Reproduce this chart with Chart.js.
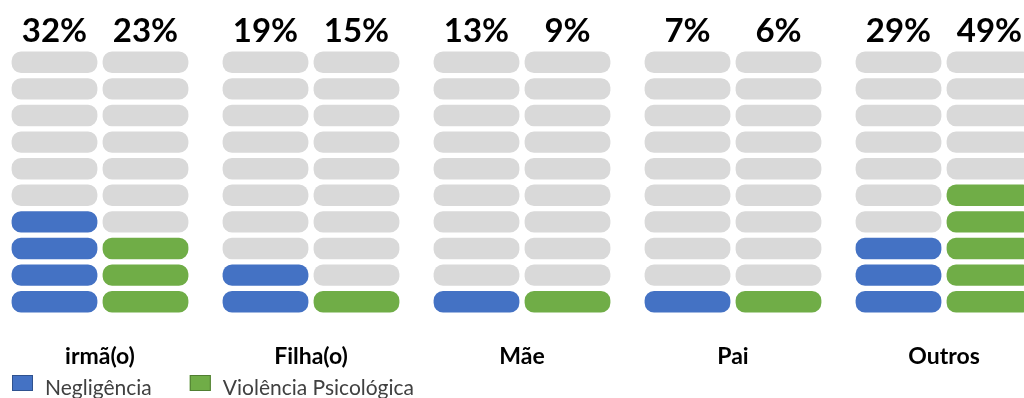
<!DOCTYPE html>
<html>
<head>
<meta charset="utf-8">
<script src="https://cdn.jsdelivr.net/npm/chart.js@4.4.1/dist/chart.umd.min.js"></script>
<style>
  html, body { margin: 0; padding: 0; background: #fff; overflow: hidden; }
  body { width: 1024px; height: 398px; position: relative; }
  .chart-box { position: absolute; left: -20px; top: 0; width: 1100px; height: 398px; }
</style>
</head>
<body>
<div class="chart-box"><canvas id="chart"></canvas></div>
<script>
const CATEGORIES = ['irmã(o)', 'Filha(o)', 'Mãe', 'Pai', 'Outros'];
const NEGLIGENCIA_PCT = [32, 19, 13, 7, 29];
const VIOLENCIA_PCT = [23, 15, 9, 6, 49];
// number of coloured pills in each column (out of 10)
const NEGLIGENCIA_FILLED = [4, 2, 1, 1, 3];
const VIOLENCIA_FILLED = [3, 1, 1, 1, 5];
const ROWS = 10;

const GREY = '#D9D9D9';

const SERIES = [
    { label: 'Negligência', stack: 'neg', pct: NEGLIGENCIA_PCT, filled: NEGLIGENCIA_FILLED, color: '#4472C4', edge: '#2F528F' },
    { label: 'Violência Psicológica', stack: 'psi', pct: VIOLENCIA_PCT, filled: VIOLENCIA_FILLED, color: '#70AD47', edge: '#507E32' }
];

// one floating-bar dataset per row and per series, so every pill is its own bar
const datasets = [];
SERIES.forEach(s => {
    for (let r = 0; r < ROWS; r++) {
        datasets.push({
            label: s.label,
            stack: s.stack,
            row: r,
            data: CATEGORIES.map(() => [r, r + 1]),
            backgroundColor: s.filled.map(n => r < n ? s.color : GREY),
            borderColor: '#ffffff',
            borderWidth: 2.6,
            borderRadius: 12,
            borderSkipped: false,
            categoryPercentage: 0.8626,
            barPercentage: 1
        });
    }
});

const percentLabels = {
    id: 'percentLabels',
    afterDatasetsDraw(chart) {
        const ctx = chart.ctx;
        ctx.save();
        ctx.font = 'bold 33px Lato';
        ctx.fillStyle = '#000';
        ctx.textAlign = 'center';
        ctx.textBaseline = 'alphabetic';
        chart.data.datasets.forEach((ds, i) => {
            if (ds.row !== ROWS - 1) return;
            const s = SERIES.find(x => x.stack === ds.stack);
            chart.getDatasetMeta(i).data.forEach((bar, j) => {
                ctx.fillText(s.pct[j] + '%', bar.x, chart.chartArea.top - 7);
            });
        });
        ctx.restore();
    }
};

const bottomLegend = {
    id: 'bottomLegend',
    afterDraw(chart) {
        const ctx = chart.ctx;
        ctx.save();
        ctx.font = '21px Lato';
        ctx.textBaseline = 'alphabetic';
        ctx.textAlign = 'left';
        let x = chart.chartArea.left + 17.5;
        const y = chart.height - 23;
        SERIES.forEach(s => {
            ctx.fillStyle = s.color;
            ctx.fillRect(x, y, 21, 16);
            ctx.strokeStyle = s.edge;
            ctx.lineWidth = 1;
            ctx.strokeRect(x + 0.5, y + 0.5, 20, 15);
            ctx.fillStyle = '#404040';
            ctx.fillText(s.label, x + 33, y + 20);
            x += 33 + ctx.measureText(s.label).width + 38;
        });
        ctx.restore();
    }
};

const ctx = document.getElementById('chart').getContext('2d');

const config = {
    type: 'bar',
    data: {
        labels: CATEGORIES,
        datasets: datasets
    },
    options: {
        responsive: true,
        maintainAspectRatio: false,
        animation: false,
        events: [],
        layout: {
            padding: { left: 14.5, right: 30.5, top: 49, bottom: 13 }
        },
        scales: {
            x: {
                grid: { display: false },
                border: { display: false },
                ticks: {
                    color: '#000',
                    padding: 20,
                    font: { family: 'Lato', size: 23, weight: 'bold' }
                },
                afterFit(scale) {
                    scale.height = 70;
                }
            },
            y: {
                display: false,
                stacked: false,
                min: 0,
                max: ROWS
            }
        },
        plugins: {
            legend: { display: false },
            tooltip: { enabled: false }
        }
    },
    plugins: [percentLabels, bottomLegend]
};

const myChart = new Chart(ctx, config);
</script>
</body>
</html>
